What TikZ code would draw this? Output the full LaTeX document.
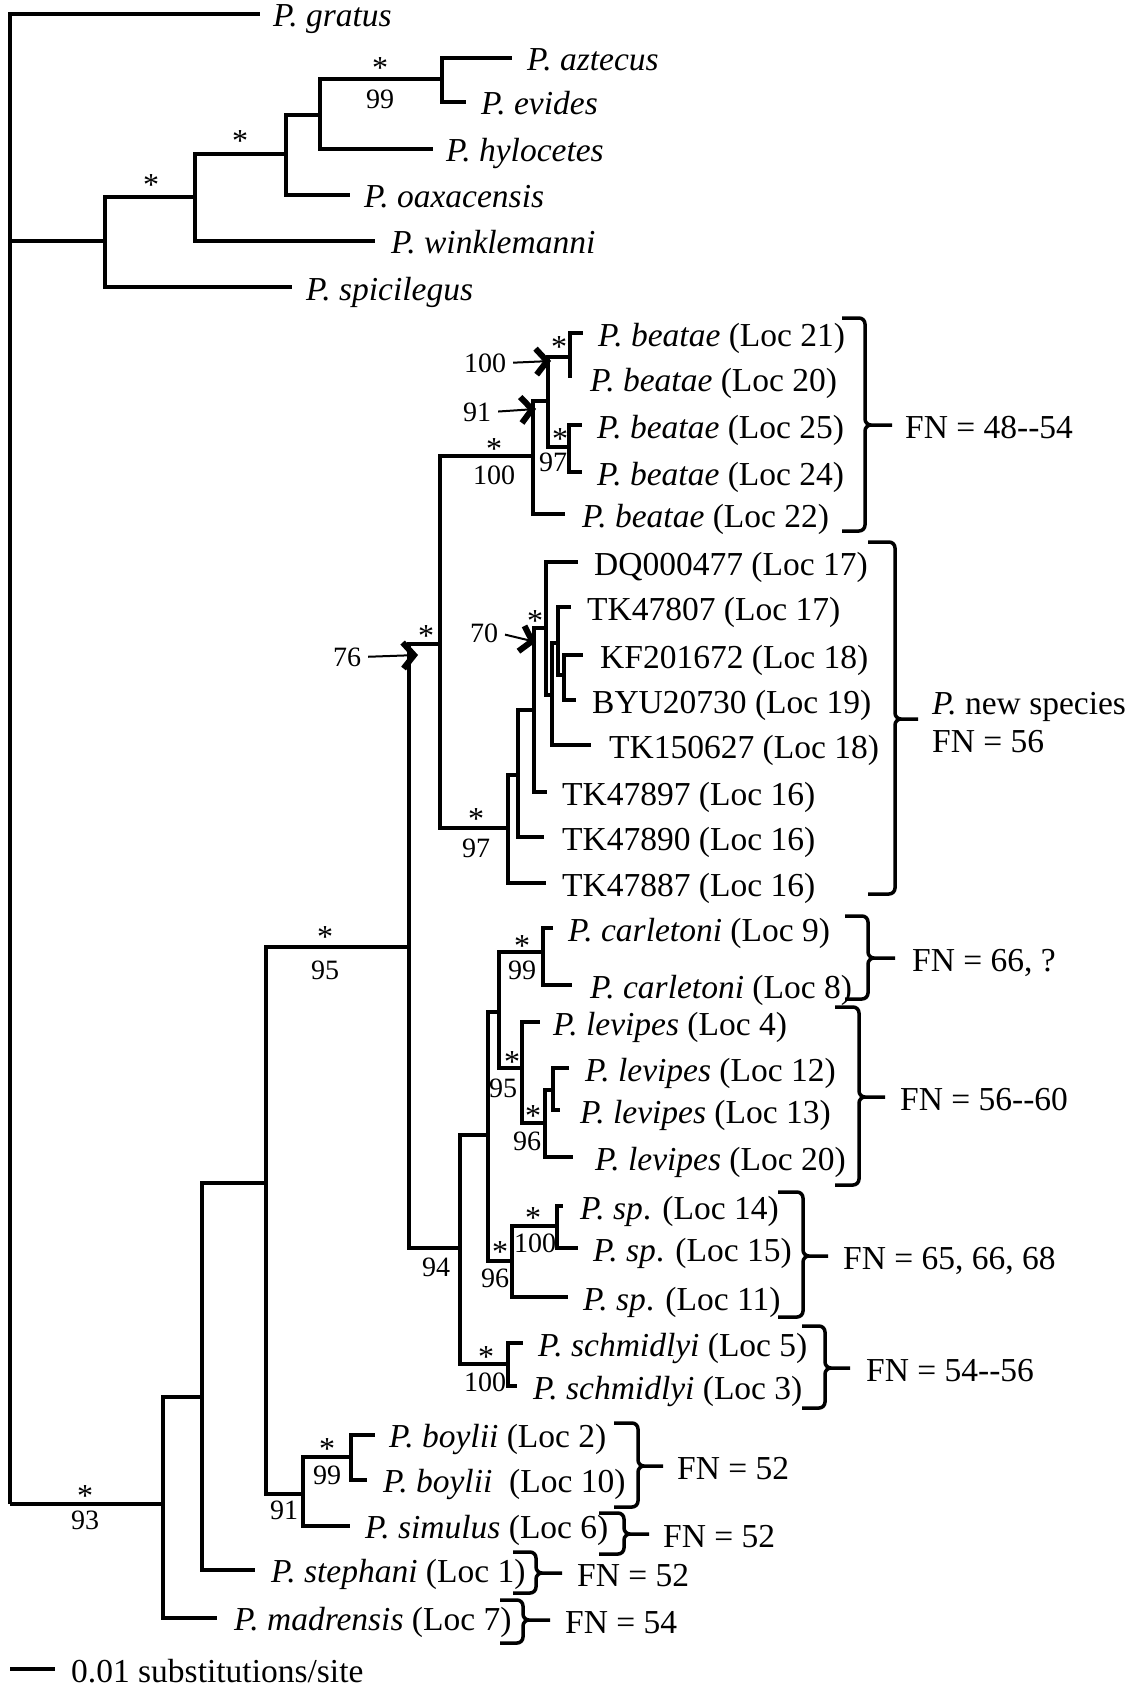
\documentclass[tikz,border=0pt]{standalone}
\usepackage{fontspec}
\setmainfont{Liberation Serif}
\usetikzlibrary{arrows.meta}

\tikzset{
  branch/.style={line width=3.5pt},
  taxon/.style={anchor=base west, yshift=-12pt, inner sep=0pt, font=\fontsize{33.5}{38}\selectfont},
  bs/.style={inner sep=0pt, font=\fontsize{28}{32}\selectfont},
  ast/.style={inner sep=0pt, yshift=-14pt, font=\fontsize{32}{34}\selectfont},
  bsarrow/.style={line width=2pt, shorten <=7pt, -{Straight Barb[length=11pt,width=26pt,line width=6pt]}},
  fnbrace/.style={line width=3.5pt, rounded corners=6pt},
}

\begin{document}
\begin{tikzpicture}[x=1pt,y=-1pt]
\useasboundingbox (0,0) rectangle (1135,1688);

% root and upper clade
\coordinate (root) at (10,1504);
\coordinate (nA) at (105,241);
\coordinate (nB) at (195,197);
\coordinate (nC) at (286,154);
\coordinate (nD) at (320,115);
\coordinate (nE) at (442,79);
\coordinate (gratus) at (260,14);
\coordinate (spicilegus) at (292,287);
\coordinate (winklemanni) at (375,241);
\coordinate (oaxacensis) at (350,195);
\coordinate (hylocetes) at (433,149);
\coordinate (aztecus) at (512,58);
\coordinate (evides) at (466,102);
\draw[branch] (root) |- (gratus) (root) |- (nA)
  (nA) |- (spicilegus) (nA) |- (nB)
  (nB) |- (winklemanni) (nB) |- (nC)
  (nC) |- (oaxacensis) (nC) |- (nD)
  (nD) |- (hylocetes) (nD) |- (nE)
  (nE) |- (aztecus) (nE) |- (evides);
\node[taxon] (gratus-t) at (273,15) {\textit{P. gratus}};
\node[taxon] (aztecus-t) at (527,59) {\textit{P. aztecus}};
\node[taxon] (evides-t) at (481,103) {\textit{P. evides}};
\node[taxon] (hylocetes-t) at (446,150) {\textit{P. hylocetes}};
\node[taxon] (oaxacensis-t) at (364,196) {\textit{P. oaxacensis}};
\node[taxon] (winklemanni-t) at (391,242) {\textit{P. winklemanni}};
\node[taxon] (spicilegus-t) at (306,288) {\textit{P. spicilegus}};
\node[ast] (aB) at (151,182) {\smash{*}};
\node[ast] (aC) at (240,138) {\smash{*}};
\node[ast] (aE) at (380,65) {\smash{*}};
\node[bs] (bE) at (380,99) {99};

% lower clade: backbone
\coordinate (n93) at (163,1504);
\coordinate (nF) at (202,1397);
\coordinate (nG) at (266,1183);
\coordinate (n95) at (409,947);
\coordinate (n91) at (303,1494);
\coordinate (n99b) at (351,1457);
\coordinate (madrensis) at (217,1618);
\coordinate (stephani) at (255,1570);
\coordinate (simulus) at (350,1526);
\coordinate (boylii2) at (375,1435);
\coordinate (boylii10) at (367,1480);
\draw[branch] (root) |- (n93)
  (n93) |- (madrensis) (n93) |- (nF)
  (nF) |- (stephani) (nF) |- (nG)
  (nG) |- (n95) (nG) |- (n91)
  (n91) |- (n99b) (n91) |- (simulus)
  (n99b) |- (boylii2) (n99b) |- (boylii10);
\node[taxon] (madrensis-t) at (234,1618) {\textit{P. madrensis} (Loc 7)};
\node[taxon] (stephani-t) at (271,1570) {\textit{P. stephani} (Loc 1)};
\node[taxon] (simulus-t) at (365,1526) {\textit{P. simulus} (Loc 6)};
\node[taxon] (boylii2-t) at (389,1435) {\textit{P. boylii} (Loc 2)};
\node[taxon] (boylii10-t) at (383,1480) {\textit{P. boylii}\ \ (Loc 10)};
\node[ast] (a93) at (85,1492) {\smash{*}};
\node[bs] (b93) at (85,1520) {93};
\node[ast] (a95) at (325,933) {\smash{*}};
\node[bs] (b95) at (325,970) {95};
\node[bs] (b91) at (284,1510) {91};
\node[ast] (a99b) at (327,1445) {\smash{*}};
\node[bs] (b99b) at (327,1475) {99};

% beatae and new species
\coordinate (n76) at (440,644);
\coordinate (nbea) at (533,456);
\coordinate (n91a) at (548,401);
\coordinate (n100a) at (570,357);
\coordinate (n97a) at (569,447);
\coordinate (n97b) at (508,828);
\coordinate (nR) at (518,775);
\coordinate (nS) at (534,710);
\coordinate (n70) at (546,628);
\coordinate (nU) at (552,695);
\coordinate (nV) at (558,643);
\coordinate (nW) at (564,675);
\coordinate (beatae21) at (583,333);
\coordinate (beatae20) at (570,378);
\coordinate (beatae25) at (582,425);
\coordinate (beatae24) at (582,472);
\coordinate (beatae22) at (565,514);
\coordinate (DQ) at (578,562);
\coordinate (TK47807) at (571,607);
\coordinate (KF) at (583,655);
\coordinate (BYU) at (576,700);
\coordinate (TK150627) at (591,745);
\coordinate (TK47897) at (547,792);
\coordinate (TK47890) at (544,837);
\coordinate (TK47887) at (546,883);
\draw[branch] (n95) |- (n76)
  (n76) |- (nbea) (n76) |- (n97b)
  (nbea) |- (n91a) (nbea) |- (beatae22)
  (n91a) |- (n100a) (n91a) |- (n97a)
  (n100a) |- (beatae21) (n100a) |- (beatae20)
  (n97a) |- (beatae25) (n97a) |- (beatae24)
  (n97b) |- (nR) (n97b) |- (TK47887)
  (nR) |- (nS) (nR) |- (TK47890)
  (nS) |- (n70) (nS) |- (TK47897)
  (n70) |- (DQ) (n70) |- (nU)
  (nU) |- (nV) (nU) |- (TK150627)
  (nV) |- (TK47807) (nV) |- (nW)
  (nW) |- (KF) (nW) |- (BYU);
\node[taxon] (beatae21-t) at (598,334) {\textit{P. beatae} (Loc 21)};
\node[taxon] (beatae20-t) at (590,379) {\textit{P. beatae} (Loc 20)};
\node[taxon] (beatae25-t) at (597,426) {\textit{P. beatae} (Loc 25)};
\node[taxon] (beatae24-t) at (597,473) {\textit{P. beatae} (Loc 24)};
\node[taxon] (beatae22-t) at (582,515) {\textit{P. beatae} (Loc 22)};
\node[taxon] (DQ-t) at (594,563) {DQ000477 (Loc 17)};
\node[taxon] (TK47807-t) at (587,608) {TK47807 (Loc 17)};
\node[taxon] (KF-t) at (600,656) {KF201672 (Loc 18)};
\node[taxon] (BYU-t) at (592,701) {BYU20730 (Loc 19)};
\node[taxon] (TK150627-t) at (609,746) {TK150627 (Loc 18)};
\node[taxon] (TK47897-t) at (562,793) {TK47897 (Loc 16)};
\node[taxon] (TK47890-t) at (562,838) {TK47890 (Loc 16)};
\node[taxon] (TK47887-t) at (562,884) {TK47887 (Loc 16)};
\coordinate (t76) at (418,655);
\coordinate (t91a) at (536,409);
\coordinate (t100a) at (551,361);
\coordinate (t70) at (536,642);
\node[ast] (a76) at (426,632) {\smash{*}};
\node[bs] (b76) at (347,657) {76};
\draw[bsarrow] (b76.east) -- (t76);
\node[ast] (abea) at (494,445) {\smash{*}};
\node[bs] (bbea) at (494,475) {100};
\node[bs] (b91a) at (477,412) {91};
\draw[bsarrow] (b91a.east) -- (t91a);
\node[ast] (a100a) at (559,343) {\smash{*}};
\node[bs] (b100a) at (485,363) {100};
\draw[bsarrow] (b100a.east) -- (t100a);
\node[ast] (a97a) at (560,435) {\smash{*}};
\node[bs] (b97a) at (553,462) {97};
\node[ast] (a97b) at (476,815) {\smash{*}};
\node[bs] (b97b) at (476,848) {97};
\node[ast] (a70) at (535,617) {\smash{*}};
\node[bs] (b70) at (484,633) {70};
\draw[bsarrow] (b70.east) -- (t70);

% carletoni, levipes, sp., schmidlyi
\coordinate (n94) at (460,1248);
\coordinate (nX) at (488,1135);
\coordinate (nZ) at (499,1012);
\coordinate (ncar) at (543,952);
\coordinate (nlev) at (522,1068);
\coordinate (n96a) at (545,1123);
\coordinate (nlevC) at (553,1090);
\coordinate (n96b) at (512,1261);
\coordinate (nsp) at (557,1226);
\coordinate (nsch) at (508,1364);
\coordinate (carl9) at (553,928);
\coordinate (carl8) at (572,985);
\coordinate (lev4) at (540,1022);
\coordinate (lev12) at (569,1068);
\coordinate (lev13) at (560,1110);
\coordinate (lev20) at (573,1157);
\coordinate (sp14) at (563,1206);
\coordinate (sp15) at (578,1248);
\coordinate (sp11) at (568,1297);
\coordinate (sch5) at (523,1343);
\coordinate (sch3) at (517,1386);
\draw[branch] (n95) |- (n94)
  (n94) |- (nX) (n94) |- (nsch)
  (nX) |- (nZ) (nX) |- (n96b)
  (nZ) |- (ncar) (nZ) |- (nlev)
  (ncar) |- (carl9) (ncar) |- (carl8)
  (nlev) |- (lev4) (nlev) |- (n96a)
  (n96a) |- (nlevC) (n96a) |- (lev20)
  (nlevC) |- (lev12) (nlevC) |- (lev13)
  (n96b) |- (nsp) (n96b) |- (sp11)
  (nsp) |- (sp14) (nsp) |- (sp15)
  (nsch) |- (sch5) (nsch) |- (sch3);
\node[taxon] (carl9-t) at (568,929) {\textit{P. carletoni} (Loc 9)};
\node[taxon] (carl8-t) at (590,986) {\textit{P. carletoni} (Loc 8)};
\node[taxon] (lev4-t) at (553,1023) {\textit{P. levipes} (Loc 4)};
\node[taxon] (lev12-t) at (585,1069) {\textit{P. levipes} (Loc 12)};
\node[taxon] (lev13-t) at (580,1111) {\textit{P. levipes} (Loc 13)};
\node[taxon] (lev20-t) at (595,1158) {\textit{P. levipes} (Loc 20)};
\node[taxon] (sp14-t) at (580,1207) {\textit{P. sp}. (Loc 14)};
\node[taxon] (sp15-t) at (593,1249) {\textit{P. sp}. (Loc 15)};
\node[taxon] (sp11-t) at (583,1298) {\textit{P. sp}. (Loc 11)};
\node[taxon] (sch5-t) at (538,1344) {\textit{P. schmidlyi} (Loc 5)};
\node[taxon] (sch3-t) at (533,1387) {\textit{P. schmidlyi} (Loc 3)};
\node[bs] (b94) at (436,1267) {94};
\node[ast] (acar) at (522,942) {\smash{*}};
\node[bs] (bcar) at (522,970) {99};
\node[ast] (alev) at (512,1058) {\smash{*}};
\node[bs] (blev) at (503,1088) {95};
\node[ast] (a96a) at (533,1112) {\smash{*}};
\node[bs] (b96a) at (527,1141) {96};
\node[ast] (a96b) at (500,1248) {\smash{*}};
\node[bs] (b96b) at (495,1278) {96};
\node[ast] (asp) at (533,1214) {\smash{*}};
\node[bs] (bsp) at (535,1243) {100};
\node[ast] (asch) at (486,1353) {\smash{*}};
\node[bs] (bsch) at (485,1382) {100};

% FN brackets
\draw[fnbrace] (842,318) -| (865,425) -- (892,425) (842,531) -| (865,425) -- (892,425);
\node[taxon] (fn-bea) at (905,426) {FN = 48-{}-54};
\draw[fnbrace] (868,542) -| (895,719) -- (918,719) (868,894) -| (895,719) -- (918,719);
\node[taxon] (sp-new) at (932,702) {\textit{P.} new species};
\node[taxon] (fn-new) at (932,740) {FN = 56};
\draw[fnbrace] (845,916) -| (868,958) -- (895,958) (845,999) -| (868,958) -- (895,958);
\node[taxon] (fn-car) at (912,959) {FN = 66, ?};
\draw[fnbrace] (835,1007) -| (859,1097) -- (885,1097) (835,1185) -| (859,1097) -- (885,1097);
\node[taxon] (fn-lev) at (900,1098) {FN = 56-{}-60};
\draw[fnbrace] (778,1192) -| (803,1256) -- (828,1256) (778,1317) -| (803,1256) -- (828,1256);
\node[taxon] (fn-sp) at (843,1257) {FN = 65, 66, 68};
\draw[fnbrace] (802,1326) -| (825,1368) -- (850,1368) (802,1408) -| (825,1368) -- (850,1368);
\node[taxon] (fn-sch) at (866,1369) {FN = 54-{}-56};
\draw[fnbrace] (614,1423) -| (638,1466) -- (663,1466) (614,1507) -| (638,1466) -- (663,1466);
\node[taxon] (fn-boy) at (677,1467) {FN = 52};
\draw[fnbrace] (599,1513) -| (624,1534) -- (649,1534) (599,1554) -| (624,1534) -- (649,1534);
\node[taxon] (fn-sim) at (663,1535) {FN = 52};
\draw[fnbrace] (513,1552) -| (536,1573) -- (562,1573) (513,1593) -| (536,1573) -- (562,1573);
\node[taxon] (fn-ste) at (577,1574) {FN = 52};
\draw[fnbrace] (500,1600) -| (523,1620) -- (550,1620) (500,1643) -| (523,1620) -- (550,1620);
\node[taxon] (fn-mad) at (565,1621) {FN = 54};

% scale bar
\coordinate (sb0) at (10,1669);
\coordinate (sb1) at (55,1669);
\draw[branch] (sb0) -- (sb1);
\node[taxon] (sb-t) at (71,1670) {0.01 substitutions/site};
\end{tikzpicture}
\end{document}
